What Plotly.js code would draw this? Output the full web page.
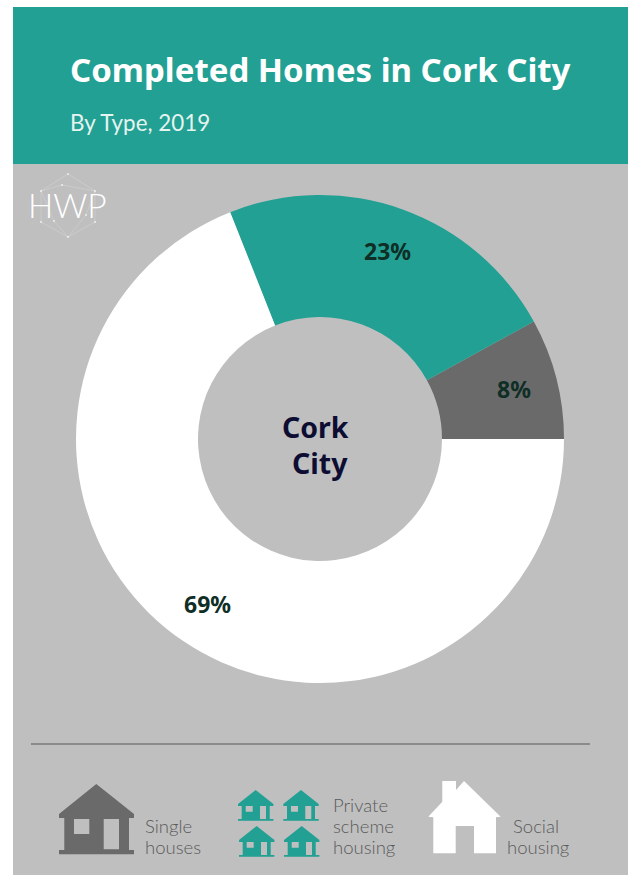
<!DOCTYPE html>
<html>
<head>
<meta charset="utf-8">
<script src="https://cdn.plot.ly/plotly-3.0.1.min.js"></script>
<style>html,body{margin:0;padding:0;background:#fff;overflow:hidden}</style>
</head>
<body>
<div id="chart" style="width:629px;height:875px"></div>
<script>
// Share of completed homes by type
const categories = ['Single houses', 'Private scheme housing', 'Social housing'];
const shares = [8, 23, 69];
const sliceColors = ['#6a6a6a', '#22a093', '#ffffff'];

const W = 629, H = 875;
const TEAL = '#22a093', PANEL = '#bfbfbf', SLATE = '#6a6a6a';
const px = x => x / W;
const py = y => 1 - y / H;

// Pixel-based path helper: builds an SVG path in paper coordinates
const P = (pts) => 'M' + pts.map(p => px(p[0]) + ',' + py(p[1])).join('L') + 'Z';
const filled = (path, color) => ({type: 'path', xref: 'paper', yref: 'paper', path, fillcolor: color, line: {width: 0}, layer: 'below'});

const rect = (x0, y0, x1, y1, color) => ({type: 'rect', xref: 'paper', yref: 'paper', x0: px(x0), x1: px(x1), y0: py(y1), y1: py(y0), fillcolor: color, line: {width: 0}, layer: 'below'});

// Large house icon
const bigHouse = P([[96.3,784],[134,814],[134,818],[129,818],[129,850],[134,850],[134,854.3],[59,854.3],[59,850],[64.3,850],[64.3,818],[59,818],[59,814]])
  + P([[74,819],[89.3,819],[89.3,834],[74,834]])
  + P([[103.7,819],[119,819],[119,849.3],[103.7,849.3]]);

// Small house icon, placed relative to its roof apex
const smallHouse = (ax, ay) => {
  const t = pts => pts.map(p => [ax + p[0], ay + p[1]]);
  return P(t([[0,0],[17.7,14],[17.7,16],[14,16],[14,29],[17.7,29],[17.7,30.7],[-17.7,30.7],[-17.7,29],[-14,29],[-14,16],[-17.7,16],[-17.7,14]]))
    + P(t([[-10,16],[-3,16],[-3,21.7],[-10,21.7]]))
    + P(t([[4.3,16],[10.3,16],[10.3,29],[4.3,29]]));
};

// Social housing icon with chimney and open doorway
const whiteHouse = P([[442.3,781],[456,781],[456,790],[464,781],[500.7,816.7],[496,817.3],[496,853.3],[474,853.3],[474,826],[455.7,826],[455.7,853.3],[433.3,853.3],[433.3,817.3],[428.3,816.7],[442.3,801.7]]);

// Logo network lines and nodes
const hex = [[68,174],[95,191],[95,222],[68,237],[41,222],[41,191]];
const thin = (pts) => ({type: 'path', xref: 'paper', yref: 'paper', path: P(pts), line: {color: 'rgba(255,255,255,0.3)', width: 0.6}, layer: 'below'});
const logoNodes = hex.concat([[62,185],[54,221],[86,215]]).map(n => ({
  type: 'circle', xref: 'paper', yref: 'paper',
  x0: px(n[0] - 1), x1: px(n[0] + 1), y0: py(n[1] + 1), y1: py(n[1] - 1),
  fillcolor: 'rgba(255,255,255,0.7)', line: {width: 0}, layer: 'below'
}));

const shapes = [
  rect(13, 164, 628, 875, PANEL),
  rect(13, 7, 628, 164, TEAL),
  thin(hex),
  thin([[41,191],[62,185],[95,191],[86,215],[68,237],[54,221]]),
  ...logoNodes,
  {type: 'line', xref: 'paper', yref: 'paper', x0: px(31), x1: px(590), y0: py(744), y1: py(744), line: {color: '#7a7a7a', width: 1.5}},
  filled(bigHouse, SLATE),
  filled(smallHouse(255.7, 790), TEAL),
  filled(smallHouse(301, 790), TEAL),
  filled(smallHouse(256.7, 826), TEAL),
  filled(smallHouse(301.7, 826), TEAL),
  filled(whiteHouse, '#ffffff')
];

const BODY = 'Lato, "Open Sans", sans-serif';
const HEAD = '"Noto Sans", "Open Sans", sans-serif';
const note = (text, x, y, size, color, family, anchor, weight) => ({
  text, x: px(x), y: py(y), xref: 'paper', yref: 'paper',
  xanchor: anchor || 'left', yanchor: 'middle', showarrow: false,
  font: {size, color, family, weight: weight || 400}
});

// Percent labels sit on a fixed radius at each slice's mid angle
const cx = 320, cy = 439, labelRadius = 200;
const total = shares.reduce((a, b) => a + b, 0);
let cum = 0;
const pctLabels = shares.map(v => {
  const mid = (cum + v / 2) / total * 2 * Math.PI;
  cum += v;
  return note(v + '%', cx + labelRadius * Math.cos(mid), cy - labelRadius * Math.sin(mid), 23, '#0f2e26', HEAD, 'center', 700);
});

const LEGEND_INK = '#5a5a5a';
const annotations = [
  note('Completed Homes in Cork City', 67.5, 70, 33, '#ffffff', HEAD, 'left', 700),
  note('By Type, 2019', 68, 122, 22.4, '#e6f4f1', BODY),
  note('HWP', 26, 205, 33.5, '#ffffff', BODY, 'left', 300),
  note('Cork', 316, 427, 28.5, '#0d0d33', HEAD, 'center', 700),
  note('City', 320, 463, 28.5, '#0d0d33', HEAD, 'center', 700),
  ...pctLabels,
  note('Single', 143, 826, 18.5, LEGEND_INK, BODY, 'left', 300),
  note('houses', 143, 847, 18.5, LEGEND_INK, BODY, 'left', 300),
  note('Private', 331, 805, 18.5, LEGEND_INK, BODY, 'left', 300),
  note('scheme', 331, 826, 18.5, LEGEND_INK, BODY, 'left', 300),
  note('housing', 331, 847, 18.5, LEGEND_INK, BODY, 'left', 300),
  note('Social', 536, 826, 18.5, LEGEND_INK, BODY, 'center', 300),
  note('housing', 538, 847, 18.5, LEGEND_INK, BODY, 'center', 300)
];

const trace = {
  type: 'pie',
  labels: categories,
  values: shares,
  hole: 0.5,
  sort: false,
  direction: 'counterclockwise',
  // the first slice starts at the 3 o'clock position and runs upward
  rotation: 90 - 360 * shares[0] / total,
  textinfo: 'none',
  hoverinfo: 'label+percent',
  marker: {colors: sliceColors, line: {width: 0}},
  domain: {x: [px(76), px(564)], y: [py(683), py(195)]}
};

Plotly.newPlot('chart', [trace], {
  width: W, height: H,
  margin: {l: 0, r: 0, t: 0, b: 0},
  paper_bgcolor: '#ffffff',
  showlegend: false,
  shapes, annotations
}, {displayModeBar: false, staticPlot: true});
</script>
</body>
</html>
